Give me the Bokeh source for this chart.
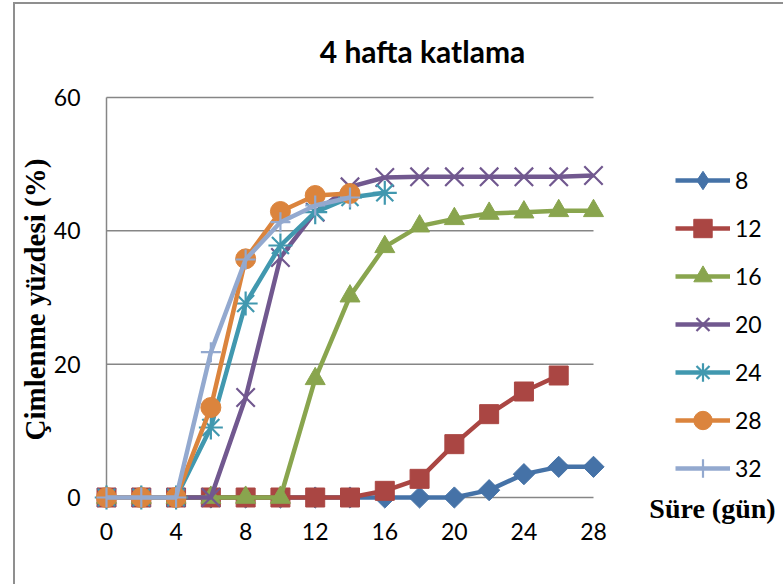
import math
from bokeh.plotting import figure
from bokeh.models import Range1d, FixedTicker, Legend, LegendItem, Label, Title, ColumnDataSource
from bokeh.embed import file_html
from bokeh.resources import INLINE

days = [0, 2, 4, 6, 8, 10, 12, 14, 16, 18, 20, 22, 24, 26, 28]
series_names = ["8", "12", "16", "20", "24", "28", "32"]
s8 = [0, 0, 0, 0, 0, 0, 0, 0, 0, 0, 0, 1.1, 3.5, 4.6, 4.6]
s12 = [0, 0, 0, 0, 0, 0, 0, 0, 1.0, 2.8, 8.0, 12.5, 15.9, 18.3]
s16 = [0, 0, 0, 0, 0, 0, 17.8, 30.2, 37.6, 40.7, 41.8, 42.6, 42.8, 43.0, 43.0]
s20 = [0, 0, 0, 0, 15.0, 36.0, 42.8, 46.6, 48.0, 48.1, 48.1, 48.1, 48.1, 48.1, 48.3]
s24 = [0, 0, 0, 10.5, 29.1, 37.8, 42.8, 45.0, 45.7]
s28 = [0, 0, 0, 13.5, 35.8, 42.9, 45.3, 45.6]
s32 = [0, 0, 0, 21.8, 35.7, 41.3, 43.8, 45.0]
y_ticks = [0, 20, 40, 60]
x_ticks = [0, 4, 8, 12, 16, 20, 24, 28]

colors = ["#4572A7", "#AA4643", "#89A54E", "#71588F", "#4198AF", "#DB843D", "#93A9CF"]
markers = ["square", "square", "triangle", "x", "asterisk", "circle", "cross"]
legend_markers = ["diamond", "square", "triangle", "x", "asterisk", "circle", "cross"]
angles = [math.pi / 4, 0, 0, 0, 0, 0, 0]
sizes = [15, 19, 20, 26, 24, 20, 20]
all_series = [s8, s12, s16, s20, s24, s28, s32]

GRID = "#868686"
TICK_FONT = "Lato"

# layout (page pixels): canvas at (0,0)
W, H = 783, 584
FL, FB = 94, 530           # frame left / bottom on page
X0PX, PXX = 106, 487 / 28  # data x=0 pixel, px per unit
Y0PX, PXY = 497, 400 / 60  # data y=0 pixel, px per unit
x_start = (FL - X0PX) / PXX
x_end = (W - X0PX) / PXX
y_start = -(FB - Y0PX) / PXY
y_end = Y0PX / PXY

p = figure(width=W, height=H, output_backend="svg", toolbar_location=None,
           x_range=Range1d(x_start, x_end), y_range=Range1d(y_start, y_end),
           min_border_left=FL, min_border_right=0, min_border_top=0,
           min_border_bottom=H - FB)
p.styles = {
    "background": ("linear-gradient(#8f8f8f, #8f8f8f) 13px 2px / 2px 100% no-repeat, "
                   "linear-gradient(#8f8f8f, #8f8f8f) 13px 2px / 100% 2px no-repeat, white"),
}
p.outline_line_color = None
p.background_fill_alpha = 0
p.border_fill_alpha = 0
p.xgrid.visible = False
p.ygrid.visible = False

# gridlines limited to data extent
p.segment(x0=[days[0]] * len(y_ticks), x1=[days[-1]] * len(y_ticks), y0=y_ticks, y1=y_ticks,
          line_color=GRID, line_width=1.5)
p.segment(x0=[days[0]], x1=[days[0]], y0=[y_ticks[0]], y1=[y_ticks[-1]], line_color=GRID, line_width=1.5)

# axes
p.xaxis.ticker = FixedTicker(ticks=x_ticks)
p.yaxis.ticker = FixedTicker(ticks=y_ticks)
for ax in (p.xaxis[0], p.yaxis[0]):
    ax.axis_line_color = None
    ax.major_tick_line_color = None
    ax.minor_tick_line_color = None
    ax.major_tick_in = 0
    ax.major_tick_out = 0
    ax.major_label_text_font = TICK_FONT
    ax.major_label_text_font_size = "23px"
    ax.major_label_text_color = "black"
p.xaxis.major_label_standoff = -8
p.yaxis.major_label_standoff = 14

# y axis title, placed outside the tick labels
p.add_layout(Title(text="Çimlenme yüzdesi (%)", align="left", offset=FB - 440, standoff=0,
                   text_font="Liberation Serif", text_font_style="bold", text_font_size="29px",
                   text_color="black"), "left")

items = []
for name, ys, c, m, lm, a, s in zip(series_names, all_series, colors, markers, legend_markers, angles, sizes):
    src = ColumnDataSource(dict(x=days[:len(ys)], y=ys))
    ln = p.line("x", "y", source=src, line_color=c, line_width=4.5)
    leg = None
    if lm != m:
        # diamond glyph for the legend swatch (legend swatches ignore rotation);
        # it sits fully underneath the rotated squares in the plot
        leg = p.scatter("x", "y", source=src, marker=lm, size=s + 2, fill_color=c, line_color=c, line_width=1)
    if m in ("x", "asterisk", "cross"):
        sc = p.scatter("x", "y", source=src, marker=m, size=s, line_color=c, line_width=2.2)
    else:
        sc = p.scatter("x", "y", source=src, marker=m, size=s, angle=a,
                       fill_color=c, line_color=c, line_width=1)
    items.append(LegendItem(label=name, renderers=[ln, leg if leg is not None else sc]))

legend = Legend(items=items, location=(675 - FL, FB - 491), orientation="vertical",
                glyph_width=55, glyph_height=46, label_height=24, spacing=2,
                label_standoff=5, padding=0, margin=0,
                border_line_color=None, background_fill_alpha=0,
                label_text_font=TICK_FONT, label_text_font_size="23px",
                label_text_color="black")
p.add_layout(legend, "center")

p.add_layout(Label(x=422 - FL, y=FB - 50, x_units="screen", y_units="screen", text="4 hafta katlama",
                   text_font="Lato", text_font_style="bold", text_font_size="30px",
                   text_align="center", text_baseline="middle", text_color="black"))
p.add_layout(Label(x=712 - FL, y=FB - 508, x_units="screen", y_units="screen", text="Süre (gün)",
                   text_font="Liberation Serif", text_font_style="bold", text_font_size="28px",
                   text_align="center", text_baseline="middle", text_color="black"))

open("out.html", "w").write(file_html(p, INLINE))
